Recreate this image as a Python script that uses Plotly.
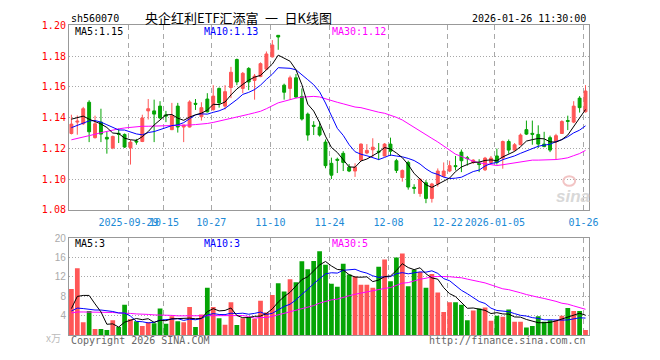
import plotly.graph_objects as go
import pandas as pd

# ---------------- data ----------------
dates = (
    ["2025-09-15", "2025-09-16", "2025-09-17", "2025-09-18", "2025-09-19",
     "2025-09-22", "2025-09-23", "2025-09-24", "2025-09-25", "2025-09-26",
     "2025-09-29", "2025-09-30", "2025-10-09", "2025-10-10",
     "2025-10-13", "2025-10-14", "2025-10-15", "2025-10-16", "2025-10-17",
     "2025-10-20", "2025-10-21", "2025-10-22", "2025-10-23", "2025-10-24",
     "2025-10-27", "2025-10-28", "2025-10-29", "2025-10-30", "2025-10-31",
     "2025-11-03", "2025-11-04", "2025-11-05", "2025-11-06", "2025-11-07",
     "2025-11-10", "2025-11-11", "2025-11-12", "2025-11-13", "2025-11-14",
     "2025-11-17", "2025-11-18", "2025-11-19", "2025-11-20", "2025-11-21",
     "2025-11-24", "2025-11-25", "2025-11-26", "2025-11-27", "2025-11-28",
     "2025-12-01", "2025-12-02", "2025-12-03", "2025-12-04", "2025-12-05",
     "2025-12-08", "2025-12-09", "2025-12-10", "2025-12-11", "2025-12-12",
     "2025-12-15", "2025-12-16", "2025-12-17", "2025-12-18", "2025-12-19",
     "2025-12-22", "2025-12-23", "2025-12-24", "2025-12-25", "2025-12-26",
     "2025-12-29", "2025-12-30", "2025-12-31",
     "2026-01-05", "2026-01-06", "2026-01-07", "2026-01-08", "2026-01-09",
     "2026-01-12", "2026-01-13", "2026-01-14", "2026-01-15", "2026-01-16",
     "2026-01-19", "2026-01-20", "2026-01-21", "2026-01-22", "2026-01-23",
     "2026-01-26"]
)

opens = [1.1297, 1.1371, 1.1360, 1.1500, 1.1270, 1.1371, 1.1272, 1.1203, 1.1298, 1.1291,
         1.1203, 1.1248, 1.1245, 1.1444, 1.1444, 1.1475, 1.1418, 1.1322, 1.1475, 1.1339,
         1.1339, 1.1493, 1.1406, 1.1521, 1.1452, 1.1590, 1.1475, 1.1596, 1.1778, 1.1590,
         1.1720, 1.1642, 1.1667, 1.1715, 1.1795, 1.1935, 1.1611, 1.1590, 1.1659, 1.1538,
         1.1423, 1.1350, 1.1339, 1.1241, 1.1103, 1.1129, 1.1168, 1.1078, 1.1053, 1.1124,
         1.1170, 1.1191, 1.1182, 1.1151, 1.1228, 1.1120, 1.1011, 1.1109, 1.0947, 1.0907,
         1.0977, 1.0875, 1.0969, 1.1019, 1.1053, 1.1088, 1.1176, 1.1139, 1.1109, 1.1103,
         1.1061, 1.1109, 1.1151, 1.1137, 1.1245, 1.1189, 1.1224, 1.1322, 1.1298, 1.1291,
         1.1228, 1.1270, 1.1245, 1.1297, 1.1381, 1.1371, 1.1527, 1.1438]
highs = [1.1419, 1.1414, 1.1470, 1.1513, 1.1413, 1.1458, 1.1308, 1.1283, 1.1329, 1.1297,
         1.1256, 1.1262, 1.1419, 1.1521, 1.1517, 1.1507, 1.1444, 1.1496, 1.1496, 1.1352,
         1.1513, 1.1521, 1.1500, 1.1559, 1.1611, 1.1596, 1.1611, 1.1730, 1.1784, 1.1697,
         1.1728, 1.1684, 1.1759, 1.1830, 1.1904, 1.1935, 1.1621, 1.1673, 1.1684, 1.1590,
         1.1433, 1.1377, 1.1375, 1.1258, 1.1140, 1.1140, 1.1182, 1.1099, 1.1103, 1.1233,
         1.1228, 1.1266, 1.1235, 1.1235, 1.1270, 1.1132, 1.1063, 1.1120, 1.0967, 1.1007,
         1.0994, 1.0976, 1.1070, 1.1109, 1.1120, 1.1151, 1.1193, 1.1151, 1.1130, 1.1130,
         1.1145, 1.1151, 1.1199, 1.1251, 1.1258, 1.1235, 1.1297, 1.1381, 1.1381, 1.1350,
         1.1308, 1.1283, 1.1295, 1.1383, 1.1413, 1.1507, 1.1540, 1.1611]
lows = [1.1291, 1.1289, 1.1352, 1.1241, 1.1264, 1.1241, 1.1166, 1.1195, 1.1235, 1.1203,
        1.1095, 1.1224, 1.1241, 1.1388, 1.1241, 1.1391, 1.1371, 1.1319, 1.1303, 1.1241,
        1.1336, 1.1450, 1.1381, 1.1433, 1.1446, 1.1465, 1.1454, 1.1527, 1.1611, 1.1559,
        1.1579, 1.1517, 1.1663, 1.1709, 1.1791, 1.1841, 1.1517, 1.1517, 1.1527, 1.1381,
        1.1250, 1.1287, 1.1277, 1.1071, 1.1001, 1.1040, 1.1053, 1.1046, 1.1015, 1.1120,
        1.1162, 1.1140, 1.1124, 1.1148, 1.1151, 1.1040, 1.0984, 1.0932, 1.0905, 1.0886,
        1.0844, 1.0848, 1.0952, 1.1013, 1.1046, 1.1057, 1.1046, 1.1088, 1.1099, 1.1046,
        1.1053, 1.1103, 1.1095, 1.1068, 1.1166, 1.1182, 1.1220, 1.1287, 1.1224, 1.1203,
        1.1208, 1.1176, 1.1130, 1.1295, 1.1319, 1.1364, 1.1433, 1.1433]
closes = [1.1358, 1.1377, 1.1458, 1.1308, 1.1360, 1.1293, 1.1261, 1.1278, 1.1292, 1.1209,
          1.1241, 1.1242, 1.1398, 1.1458, 1.1423, 1.1398, 1.1411, 1.1413, 1.1339, 1.1352,
          1.1502, 1.1487, 1.1465, 1.1438, 1.1540, 1.1496, 1.1569, 1.1695, 1.1632, 1.1688,
          1.1632, 1.1670, 1.1751, 1.1814, 1.1872, 1.1924, 1.1565, 1.1659, 1.1534, 1.1391,
          1.1287, 1.1344, 1.1287, 1.1088, 1.1026, 1.1123, 1.1109, 1.1053, 1.1078, 1.1228,
          1.1187, 1.1208, 1.1176, 1.1228, 1.1182, 1.1057, 1.1057, 1.0949, 1.0941, 1.0999,
          1.0875, 1.0969, 1.1053, 1.1053, 1.1088, 1.1082, 1.1120, 1.1134, 1.1124, 1.1095,
          1.1137, 1.1137, 1.1109, 1.1245, 1.1189, 1.1224, 1.1287, 1.1293, 1.1292, 1.1228,
          1.1212, 1.1189, 1.1283, 1.1375, 1.1376, 1.1475, 1.1465, 1.1573]
# volume, unit: 万
volumes = [9.5, 13.8, 2.7, 5.0, 1.3, 1.3, 1.1, 3.1, 1.7, 6.3,
           3.3, 2.9, 1.9, 2.7, 2.5, 5.5, 2.4, 3.9, 2.9, 2.7,
           5.8, 1.7, 4.3, 9.8, 5.8, 3.5, 2.2, 6.8, 2.1, 3.5,
           3.7, 3.4, 7.1, 4.7, 8.3, 10.7, 9.0, 11.5, 10.9, 15.2,
           13.6, 15.3, 17.3, 14.5, 10.6, 10.0, 14.7, 12.5, 12.1, 10.4,
           10.4, 9.8, 14.1, 15.6, 11.1, 16.0, 16.8, 10.1, 13.5, 13.0,
           9.8, 12.6, 8.8, 4.8, 6.8, 6.8, 6.3, 3.1, 5.1, 5.5,
           5.7, 3.0, 4.0, 3.8, 5.3, 2.8, 2.8, 1.6, 1.9, 3.9,
           2.8, 3.1, 3.1, 4.0, 5.6, 5.0, 5.0, 1.1]

# moving-average values at the left edge (window reaches before the shown data)
ma5_head = [1.139, 1.140, 1.141, 1.139]
ma10_head = [1.1335, 1.1349, 1.1367, 1.1379, 1.1381, 1.1371, 1.1354, 1.1339, 1.1320]
ma30_head = [1.1256, 1.1264, 1.1273, 1.1283, 1.1292, 1.1302, 1.1311, 1.1320, 1.1327, 1.1333,
             1.1337, 1.1341, 1.1344, 1.1344, 1.1345, 1.1345, 1.1345, 1.1345, 1.1347, 1.1349,
             1.1352, 1.1355, 1.1358, 1.1362, 1.1369, 1.1377, 1.1386, 1.1396, 1.1405]
vma5_head = [5.5, 8.0, 8.2, 8.2]
vma10_head = [5.0, 5.6, 5.5, 5.3, 5.2, 5.2, 5.1, 4.9, 4.6]
vma30_head = [4.6, 4.8, 4.8, 4.8, 4.8, 4.7, 4.7, 4.7, 4.6, 4.6,
              4.5, 4.4, 4.4, 4.3, 4.2, 4.2, 4.1, 4.1, 4.0, 4.0,
              4.0, 4.0, 4.0, 4.0, 4.0, 4.0, 4.0, 4.0, 4.0]

label_dates = ["2025-09-29", "2025-10-15", "2025-10-27", "2025-11-10", "2025-11-24",
               "2025-12-08", "2025-12-22", "2026-01-05", "2026-01-26"]
label_texts = ["2025-09-29", "10-15", "10-27", "11-10", "11-24",
               "12-08", "12-22", "2026-01-05", "01-26"]
price_ticks = [1.08, 1.10, 1.12, 1.14, 1.16, 1.18, 1.20]
vol_ticks = [4, 8, 12, 16, 20]

title_text = "央企红利ETF汇添富 一 日K线图"
code_text = "sh560070"
time_text = "2026-01-26 11:30:00"
price_ma_labels = ["MA5:1.15", "MA10:1.13", "MA30:1.12"]
vol_ma_labels = ["MA5:3", "MA10:3", "MA30:5"]

# ---------------- styling ----------------
W, H = 660, 360
PX0, PX1 = 70, 597.7
PY0, PY1 = 20, 211
VY0, VY1 = 240, 340.7
RED = "#FF5656"
GREEN = "#05A405"
MONO = "DejaVu Sans Mono"
GRID = "#a8a8a8"
FRAME = "#999999"


def fx(p):
    return p / W


def fy(p):
    return 1 - p / H


n = len(dates)
idx = list(range(n))


def moving(values, w, head):
    m = pd.Series(values).rolling(w).mean().tolist()
    m[:w - 1] = head
    return m


ma5 = moving(closes, 5, ma5_head)
ma10 = moving(closes, 10, ma10_head)
ma30 = moving(closes, 30, ma30_head)
vma5 = moving(volumes, 5, vma5_head)
vma10 = moving(volumes, 10, vma10_head)
vma30 = moving(volumes, 30, vma30_head)

vol_colors = [RED if c >= o else GREEN for o, c in zip(opens, closes)]

fig = go.Figure()
fig.add_trace(go.Candlestick(
    x=idx, open=opens, high=highs, low=lows, close=closes,
    increasing=dict(line=dict(color=RED, width=1), fillcolor=RED),
    decreasing=dict(line=dict(color=GREEN, width=1), fillcolor=GREEN),
    whiskerwidth=0, xaxis="x", yaxis="y", hoverinfo="skip"))
for s, c in [(ma30, "#FF00FF"), (ma10, "#0000FF"), (ma5, "#000000")]:
    fig.add_trace(go.Scatter(x=idx, y=s, mode="lines", line=dict(color=c, width=1),
                             xaxis="x", yaxis="y", hoverinfo="skip"))

fig.add_trace(go.Bar(x=idx, y=volumes, marker=dict(color=vol_colors, line=dict(width=0)),
                     width=0.8, xaxis="x2", yaxis="y2", hoverinfo="skip"))
for s, c in [(vma30, "#FF00FF"), (vma10, "#0000FF"), (vma5, "#000000")]:
    fig.add_trace(go.Scatter(x=idx, y=s, mode="lines", line=dict(color=c, width=1),
                             xaxis="x2", yaxis="y2", hoverinfo="skip"))

grid_pos = [dates.index(d) - 1 / 3 for d in label_dates]
xr = [-0.417, 87.53]

xcommon = dict(range=xr, domain=[fx(PX0), fx(PX1)], tickvals=grid_pos,
               showgrid=True, gridcolor=GRID, griddash="5px,4px", gridwidth=1,
               showline=True, mirror=True, linecolor=FRAME, linewidth=1,
               zeroline=False, ticks="", fixedrange=True, tickangle=0)

fig.update_layout(
    width=W, height=H, autosize=False,
    margin=dict(l=0, r=0, t=0, b=0),
    paper_bgcolor="white", plot_bgcolor="white",
    showlegend=False, hovermode=False,
    xaxis=dict(**xcommon, anchor="y", ticktext=label_texts, ticklabelstandoff=3,
               tickfont=dict(family=MONO, size=10, color="#1C8AD6"),
               rangeslider=dict(visible=False)),
    xaxis2=dict(**xcommon, anchor="y2", showticklabels=False),
    yaxis=dict(range=[1.08, 1.20], domain=[fy(PY1), fy(PY0)], tickvals=price_ticks,
               ticktext=["%.2f" % v for v in price_ticks],
               tickfont=dict(family=MONO, size=10, color="#FF0000"),
               showgrid=True, gridcolor=GRID, griddash="1px,2px", gridwidth=1,
               showline=True, mirror=True, linecolor=FRAME, linewidth=1,
               zeroline=False, ticks="", anchor="x"),
    yaxis2=dict(range=[0, 20], domain=[fy(VY1), fy(VY0)], tickvals=vol_ticks,
                ticktext=[str(v) for v in vol_ticks],
                tickfont=dict(family="Liberation Sans", size=10, color="#aaaaaa"),
                showgrid=True, gridcolor=GRID, griddash="1px,2px", gridwidth=1,
                showline=True, mirror=True, linecolor=FRAME, linewidth=1,
                zeroline=False, ticks="", anchor="x2"),
)


def note(text, x, y, color="#000000", xanchor="left", size=10, family=MONO, **kw):
    fig.add_annotation(text=text, x=fx(x), y=fy(y), xref="paper", yref="paper",
                       xanchor=xanchor, yanchor="middle", showarrow=False,
                       font=dict(family=family, size=size, color=color), **kw)


note(code_text, 70, 13)
note(title_text.replace(" ", "\u2002"), 242, 12, xanchor="center", size=13,
     family="Noto Sans CJK SC")
note(time_text, 597, 13, xanchor="right")
ma_x = [74, 205, 335]
ma_c = ["#000000", "#0000FF", "#FF00FF"]
for t, x, c in zip(price_ma_labels, ma_x, ma_c):
    note(t, x, 26.5, color=c)
for t, x, c in zip(vol_ma_labels, ma_x, ma_c):
    note(t, x, 246, color=c)
note("Copyright 2026 SINA.COM", 70, 346, color="#666666")
note("http://finance.sina.com.cn", 597, 346, color="#666666", xanchor="right")
note("x万", 64, 343, color="#bbbbbb", xanchor="right", family="Noto Sans CJK SC")
note("<b><i>sina</i></b>", 582, 197, color="#d8d8d8", xanchor="center", size=17,
     family="Liberation Sans")
fig.add_shape(type="circle", xref="paper", yref="paper",
              x0=fx(572), x1=fx(584), y0=fy(186), y1=fy(176),
              line=dict(color="#f2c4c4", width=2))

fig.write_html("out.html")
